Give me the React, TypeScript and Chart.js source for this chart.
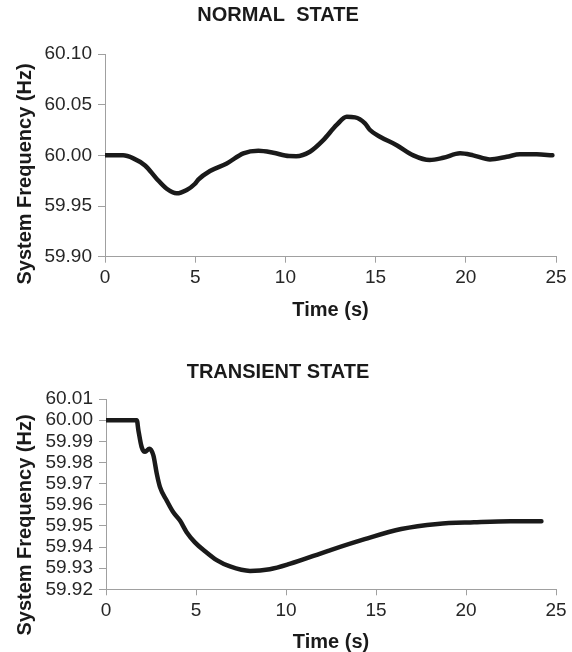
import React, { useEffect, useRef } from 'react';
import { Chart, registerables } from 'chart.js';

Chart.register(...registerables);

const FONT = '"Liberation Sans", Arial, Helvetica, sans-serif';
const AXIS = '#a0a0a0';
const INK = '#1a1a1a';
const TICK_INK = '#262626';

const xTicks = [0, 5, 10, 15, 20, 25];

const normalTitle = 'NORMAL  STATE';
const normalTime = [0, 1.0, 1.57, 2.22, 2.86, 3.42, 3.97, 4.53, 4.99, 5.17, 5.82, 6.75, 7.67, 8.5, 9.33, 10.2, 10.6, 11.36, 12.1, 12.84, 13.4, 13.86, 14.41, 14.69, 15.24, 16.17, 17.09, 18.0, 18.75, 19.68, 20.41, 21.34, 22.27, 23.0, 23.93, 24.8];
const normalFreq = [60.0, 60.0, 59.997, 59.99, 59.977, 59.967, 59.9625, 59.9658, 59.972, 59.976, 59.9845, 59.992, 60.002, 60.0045, 60.0026, 59.9993, 59.9992, 60.0036, 60.015, 60.03, 60.038, 60.0375, 60.0316, 60.025, 60.0184, 60.01, 60.0, 59.9954, 59.9976, 60.002, 60.0, 59.996, 59.9986, 60.001, 60.001, 60.0];
const normalYTicks = [59.9, 59.95, 60.0, 60.05, 60.1];

const transientTitle = 'TRANSIENT STATE';
const transientTime = [0, 1.71, 1.8, 1.98, 2.17, 2.41, 2.63, 2.82, 3.0, 3.37, 3.74, 4.11, 4.48, 4.94, 5.5, 6.15, 6.89, 8.0, 9.1, 10.2, 12.35, 14.37, 16.4, 18.42, 20.45, 22.47, 24.19];
const transientFreq = [60.0, 60.0, 59.9952, 59.9873, 59.985, 59.9865, 59.9834, 59.9747, 59.9683, 59.962, 59.9564, 59.9525, 59.947, 59.9422, 59.938, 59.9338, 59.9308, 59.9287, 59.9295, 59.932, 59.9382, 59.9437, 59.9485, 59.9509, 59.9517, 59.9522, 59.9522];
const transientYTicks = [59.92, 59.93, 59.94, 59.95, 59.96, 59.97, 59.98, 59.99, 60.0, 60.01];

const xTitle = 'Time (s)';
const yTitle = 'System Frequency (Hz)';

type Spec = {
  title: string;
  time: number[];
  freq: number[];
  yTicks: number[];
  height: number;
  padBottom: number;
  titleTop: number;
  titleBottom: number;
  yAxisWidth: number;
  xAxisHeight: number;
  yTitleX: number;
  yTitleY: number;
};

function makeChart(canvas: HTMLCanvasElement, spec: Spec) {
  const yTitlePlugin = {
    id: 'yTitleText',
    afterDraw(chart: any) {
      const ctx = chart.ctx;
      ctx.save();
      ctx.translate(spec.yTitleX, spec.yTitleY);
      ctx.rotate(-Math.PI / 2);
      ctx.font = `bold 20px ${FONT}`;
      ctx.fillStyle = INK;
      ctx.textAlign = 'center';
      ctx.textBaseline = 'middle';
      ctx.fillText(yTitle, 0, 0);
      ctx.restore();
    },
  };
  const yMin = spec.yTicks[0];
  const yMax = spec.yTicks[spec.yTicks.length - 1];
  return new Chart(canvas, {
    type: 'line',
    data: {
      datasets: [
        {
          data: spec.time.map((t, i) => ({ x: t, y: spec.freq[i] })),
          borderColor: INK,
          borderWidth: 4.5,
          pointRadius: 0,
          cubicInterpolationMode: 'monotone',
          fill: false,
          borderCapStyle: 'round',
          borderJoinStyle: 'round',
        },
      ],
    },
    options: {
      responsive: false,
      animation: false,
      layout: { padding: { left: 0, right: 16, top: 0, bottom: spec.padBottom } },
      plugins: {
        legend: { display: false },
        tooltip: { enabled: false },
        title: {
          display: true,
          text: spec.title,
          color: INK,
          font: { family: FONT, size: 20, weight: 'bold', lineHeight: 1.2 },
          padding: { top: spec.titleTop, bottom: spec.titleBottom },
        },
      },
      scales: {
        x: {
          type: 'linear',
          min: xTicks[0],
          max: xTicks[xTicks.length - 1],
          afterBuildTicks: (s: any) => {
            s.ticks = xTicks.map((v) => ({ value: v }));
          },
          afterFit: (s: any) => {
            s.height = spec.xAxisHeight;
          },
          grid: { drawOnChartArea: false, tickLength: 6, color: AXIS, lineWidth: 1 },
          border: { color: AXIS, width: 1 },
          ticks: { font: { family: FONT, size: 19 }, color: TICK_INK, padding: 4, maxRotation: 0, autoSkip: false },
          title: {
            display: true,
            text: xTitle,
            color: INK,
            font: { family: FONT, size: 20, weight: 'bold', lineHeight: 1 },
            padding: 0,
          },
        },
        y: {
          type: 'linear',
          min: yMin,
          max: yMax,
          afterBuildTicks: (s: any) => {
            s.ticks = spec.yTicks.map((v) => ({ value: v }));
          },
          afterFit: (s: any) => {
            s.width = spec.yAxisWidth;
          },
          grid: { drawOnChartArea: false, tickLength: 7, color: AXIS, lineWidth: 1 },
          border: { color: AXIS, width: 1 },
          ticks: {
            font: { family: FONT, size: 19 },
            color: TICK_INK,
            padding: 6,
            autoSkip: false,
            callback: (v: any) => Number(v).toFixed(2),
          },
        },
      },
    } as any,
    plugins: [yTitlePlugin],
  });
}

const normalSpec: Spec = {
  title: normalTitle,
  time: normalTime,
  freq: normalFreq,
  yTicks: normalYTicks,
  height: 324,
  padBottom: 4,
  titleTop: 3,
  titleBottom: 27,
  yAxisWidth: 105,
  xAxisHeight: 63.3,
  yTitleX: 25,
  yTitleY: 174,
};

const transientSpec: Spec = {
  title: transientTitle,
  time: transientTime,
  freq: transientFreq,
  yTicks: transientYTicks,
  height: 328,
  padBottom: 0,
  titleTop: 36.7,
  titleBottom: 14.3,
  yAxisWidth: 106,
  xAxisHeight: 62.7,
  yTitleX: 25.7,
  yTitleY: 201,
};

function FreqChart({ spec }: { spec: Spec }) {
  const ref = useRef<HTMLCanvasElement | null>(null);
  useEffect(() => {
    if (!ref.current) return;
    const chart = makeChart(ref.current, spec);
    return () => chart.destroy();
  }, [spec]);
  return (
    <canvas
      ref={ref}
      width={572}
      height={spec.height}
      style={{ display: 'block', width: 572, height: spec.height }}
    />
  );
}

export default function App() {
  return (
    <div style={{ position: 'absolute', left: 0, top: 0, width: 572, height: 652, background: '#ffffff' }}>
      <FreqChart spec={normalSpec} />
      <FreqChart spec={transientSpec} />
    </div>
  );
}
